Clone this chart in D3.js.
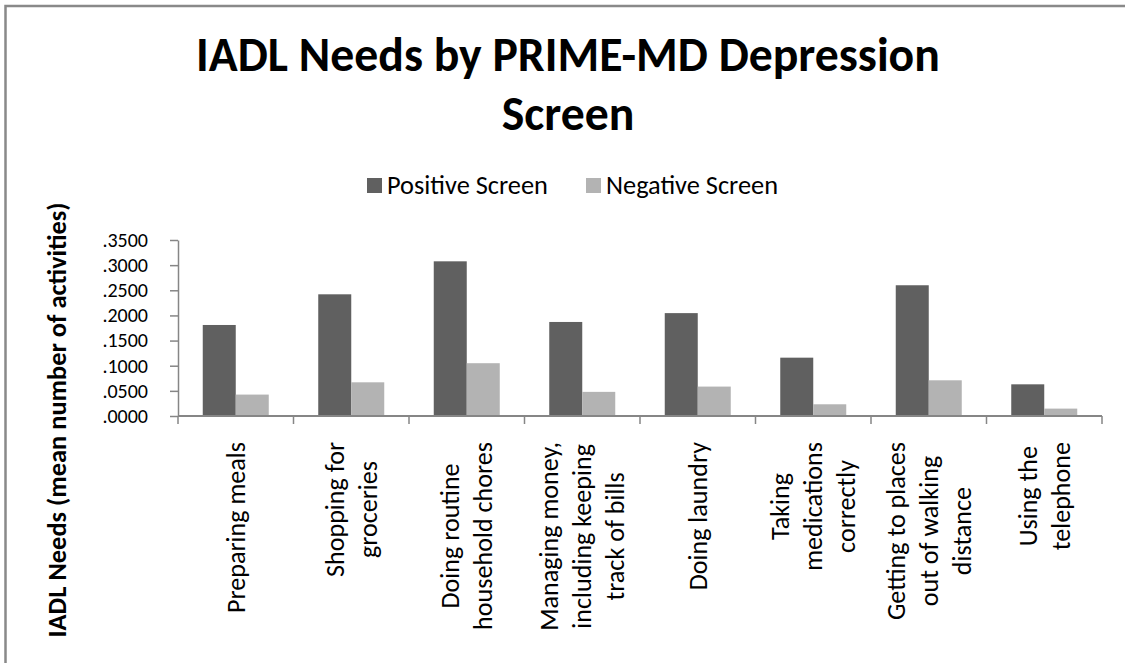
<!DOCTYPE html>
<html>
<head>
<meta charset="utf-8">
<script src="https://cdn.jsdelivr.net/npm/d3@7"></script>
<style>
  body { margin: 0; background: #fff; }
  svg { display: block; }
</style>
</head>
<body>
<div id="chart"></div>
<script>
// chart data
var categories = [
  ["Preparing meals"],
  ["Shopping for", "groceries"],
  ["Doing routine", "household chores"],
  ["Managing money,", "including keeping", "track of bills"],
  ["Doing laundry"],
  ["Taking", "medications", "correctly"],
  ["Getting to places", "out of walking", "distance"],
  ["Using the", "telephone"]
];
var seriesNames = ["Positive Screen", "Negative Screen"];
var positiveValues = [0.181, 0.242, 0.3076, 0.187, 0.2046, 0.116, 0.260, 0.063];
var negativeValues = [0.0426, 0.067, 0.105, 0.048, 0.0585, 0.0233, 0.071, 0.0147];
var yTickValues = [0, 0.05, 0.1, 0.15, 0.2, 0.25, 0.3, 0.35];
var yTickLabels = [".0000", ".0500", ".1000", ".1500", ".2000", ".2500", ".3000", ".3500"];

var svgWidth = 1125;
var svgHeight = 663;
var font = "Carlito, Calibri, Lato, 'Open Sans', sans-serif";
var colors = ["#606060", "#b3b3b3"];

var svg = d3.select("#chart")
  .append("svg")
  .attr("width", svgWidth)
  .attr("height", svgHeight)
  .style("font-family", font);

// size a font so a sample string takes the width seen in the picture
function fitSize(sample, target, weight) {
  var t = svg.append("text")
    .style("font-size", "100px")
    .style("font-weight", weight)
    .text(sample);
  var w = t.node().getComputedTextLength();
  t.remove();
  return 100 * target / w;
}
var titleSize = fitSize("IADL Needs by PRIME-MD Depression", 744, "bold");
var legendSize = fitSize("Positive Screen", 161, "normal");
// tick labels sit 25px apart, keep them from crowding each other
var tickSize = Math.min(fitSize(".3500", 56, "normal"), 20);
var catSize = fitSize("Preparing meals", 171, "normal");
var yTitleSize = fitSize("IADL Needs (mean number of activities)", 435, "bold");

// chart area border
svg.append("rect")
  .attr("x", 5.5)
  .attr("y", 6)
  .attr("width", 1300)
  .attr("height", 800)
  .attr("fill", "#fff")
  .attr("stroke", "#898989")
  .attr("stroke-width", 2.5);

// title
svg.append("text")
  .attr("x", 568)
  .attr("y", 71)
  .attr("text-anchor", "middle")
  .style("font-size", titleSize + "px")
  .style("font-weight", "bold")
  .selectAll("tspan")
  .data(["IADL Needs by PRIME-MD Depression", "Screen"])
  .enter()
  .append("tspan")
  .attr("x", 568)
  .attr("y", (d, i) => 71 + i * 59)
  .text(d => d);

// scales
var x0 = d3.scaleBand()
  .domain(d3.range(categories.length))
  .range([178, 1102]);

var gapWidth = 1.5;
var barW = x0.bandwidth() / (seriesNames.length + gapWidth);
var x1 = d3.scaleBand()
  .domain(seriesNames)
  .range([barW * gapWidth / 2, barW * gapWidth / 2 + barW * seriesNames.length]);

var y = d3.scaleLinear()
  .domain([0, 0.35])
  .range([416, 240]);

// bars
var seriesData = [positiveValues, negativeValues];
seriesNames.forEach(function(name, s) {
  svg.append("g")
    .selectAll("rect")
    .data(seriesData[s])
    .enter()
    .append("rect")
    .attr("x", (d, i) => x0(i) + x1(name))
    .attr("y", d => y(d))
    .attr("width", x1.bandwidth())
    .attr("height", d => y(0) - y(d))
    .attr("fill", colors[s]);
});

// y axis
var leftAxis = d3.axisLeft(y)
  .tickValues(yTickValues)
  .tickFormat((d, i) => yTickLabels[i])
  .tickSizeInner(8)
  .tickSizeOuter(0)
  .tickPadding(22);

var yAxisG = svg.append("g")
  .attr("transform", "translate(178,0)")
  .call(leftAxis);
yAxisG.select(".domain").attr("stroke", "#868686").attr("stroke-width", 1.5);
yAxisG.selectAll(".tick line").attr("stroke", "#868686").attr("stroke-width", 1.5);
yAxisG.selectAll(".tick text")
  .attr("fill", "#000")
  .style("font-family", font)
  .style("font-size", tickSize + "px");

// x axis: line along zero with ticks on band edges
var xEdges = d3.range(categories.length + 1).map(i => i < categories.length ? x0(i) : x0.range()[1]);
var xAxisG = svg.append("g");
xAxisG.append("line")
  .attr("x1", x0.range()[0])
  .attr("x2", x0.range()[1])
  .attr("y1", y(0))
  .attr("y2", y(0))
  .attr("stroke", "#868686")
  .attr("stroke-width", 2);
xAxisG.selectAll(".edge")
  .data(xEdges)
  .enter()
  .append("line")
  .attr("x1", d => d)
  .attr("x2", d => d)
  .attr("y1", y(0))
  .attr("y2", y(0) + 8)
  .attr("stroke", "#868686")
  .attr("stroke-width", 1.5);

// category labels, rotated, lines centred on the longest one
var lineGap = 33;
categories.forEach(function(lines, i) {
  var cx = x0(i) + x0.bandwidth() / 2;
  var g = svg.append("g");
  var texts = g.selectAll("text")
    .data(lines)
    .enter()
    .append("text")
    .attr("text-anchor", "middle")
    .style("font-size", catSize + "px")
    .text(d => d);
  var maxLen = d3.max(texts.nodes(), n => n.getComputedTextLength());
  var cy = 442 + maxLen / 2;
  texts.attr("transform", function(d, j) {
    var lx = cx + (j - (lines.length - 1) / 2) * lineGap;
    return "translate(" + lx + "," + cy + ") rotate(-90)";
  })
    .attr("dy", "0.35em");
});

// y axis title
svg.append("text")
  .attr("transform", "translate(57,420) rotate(-90)")
  .attr("text-anchor", "middle")
  .attr("dy", "0.35em")
  .style("font-size", yTitleSize + "px")
  .style("font-weight", "bold")
  .text("IADL Needs (mean number of activities)");

// legend
var legendX = [367, 586];
var legend = svg.append("g");
seriesNames.forEach(function(name, s) {
  legend.append("rect")
    .attr("x", legendX[s])
    .attr("y", 178)
    .attr("width", 15)
    .attr("height", 15)
    .attr("fill", colors[s]);
  legend.append("text")
    .attr("x", legendX[s] + 20)
    .attr("y", 194)
    .style("font-size", legendSize + "px")
    .text(name);
});
</script>
</body>
</html>
